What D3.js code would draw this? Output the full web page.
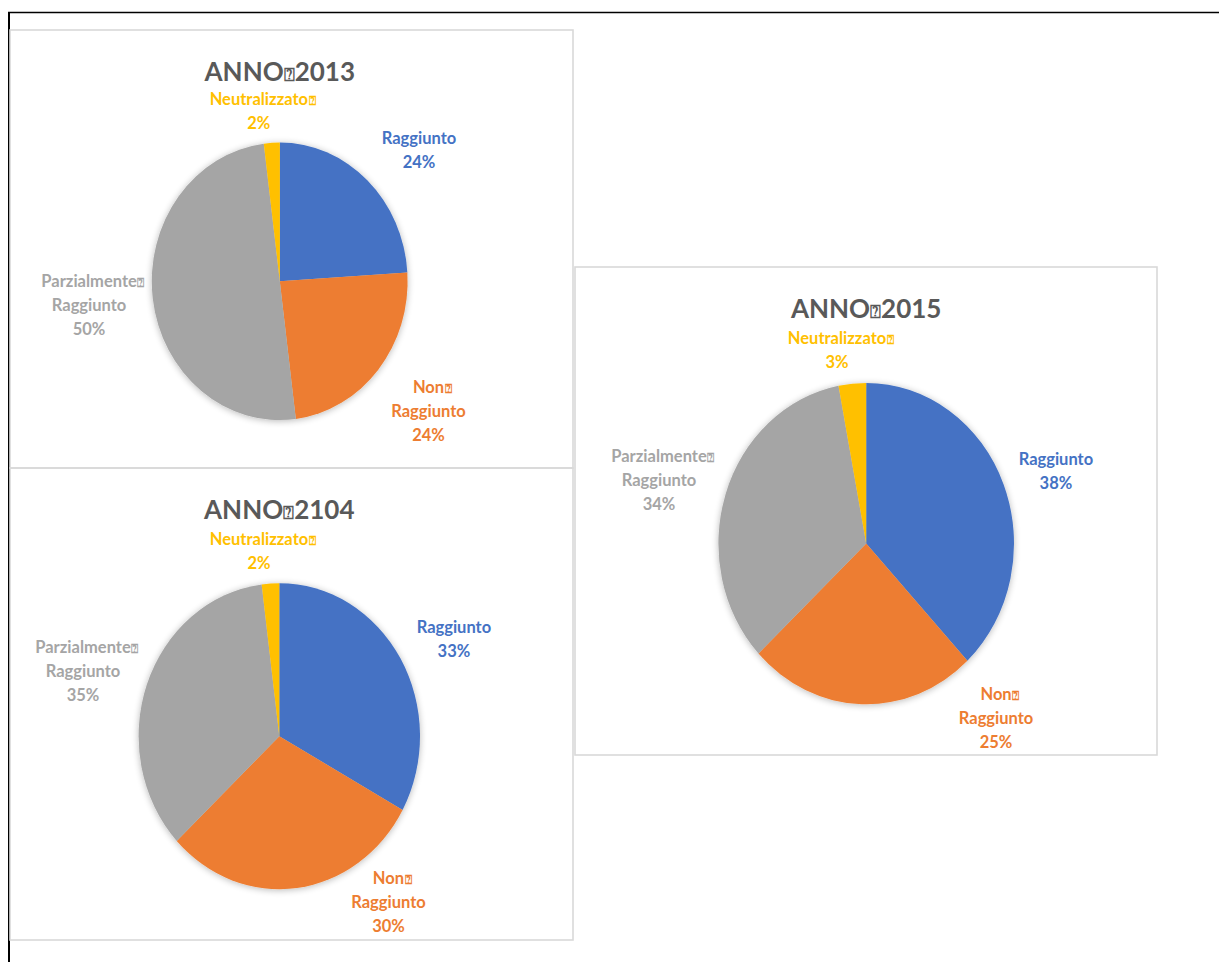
<!DOCTYPE html>
<html>
<head>
<meta charset="utf-8">
<script src="https://cdn.jsdelivr.net/npm/d3@7"></script>
<style>
  body { margin: 0; background: #fff; }
  svg { display: block; }
</style>
</head>
<body>
<svg id="chart" width="1219" height="962"></svg>
<script>
// ---- data -------------------------------------------------------------
const categories = ["Raggiunto", "Non Raggiunto", "Parzialmente Raggiunto", "Neutralizzato"];
const years = ["2013", "2104", "2015"];
const values2013 = [24, 24, 50, 2];
const values2104 = [33, 30, 35, 2];
const values2015 = [38, 25, 34, 3];
const colors = ["#4472C4", "#ED7D31", "#A5A5A5", "#FFC000"];

// category names as they wrap inside the data labels;
// a line ending in `true` carries the unrenderable space glyph after it
const labelLines = [
  [["Raggiunto", false]],
  [["Non", true], ["Raggiunto", false]],
  [["Parzialmente", true], ["Raggiunto", false]],
  [["Neutralizzato", true]]
];
const BOX = "\u2370";

// ---- layout -----------------------------------------------------------
const charts = [
  { year: years[0], values: values2013,
    panel: { x: 10, y: 30, w: 563, h: 438 },
    pie: { cx: 279.8, cy: 281.3, rx: 127.8, ry: 138.7 },
    labelTurn: [5.8, -0.8, 0.7, -4.0], labelDist: [1.443, 1.493, 1.502, 1.239] },
  { year: years[1], values: values2104,
    panel: { x: 10, y: 468, w: 563, h: 472 },
    pie: { cx: 279.3, cy: 736.2, rx: 140.7, ry: 153 },
    labelTurn: [3.6, -28.4, -2.8, -3.2], labelDist: [1.393, 1.333, 1.459, 1.219] },
  { year: years[2], values: values2015,
    panel: { x: 575, y: 267, w: 582, h: 488 },
    pie: { cx: 866.2, cy: 543.6, rx: 147.8, ry: 160.7 },
    labelTurn: [2.2, -40.8, -2.2, -3.9], labelDist: [1.361, 1.396, 1.457, 1.221] }
];

const FONT = "Lato, 'Open Sans', sans-serif";
const LINE_H = 24;

const svg = d3.select("#chart");

// soft outer shadow under each pie
const defs = svg.append("defs");
const f = defs.append("filter").attr("id", "pieShadow")
  .attr("x", "-20%").attr("y", "-20%").attr("width", "140%").attr("height", "140%");
f.append("feGaussianBlur").attr("in", "SourceAlpha").attr("stdDeviation", 3.5).attr("result", "blur");
f.append("feOffset").attr("in", "blur").attr("dx", 0).attr("dy", 1).attr("result", "off");
f.append("feComponentTransfer").attr("in", "off").attr("result", "shadow")
  .append("feFuncA").attr("type", "linear").attr("slope", 0.28);
const merge = f.append("feMerge");
merge.append("feMergeNode").attr("in", "shadow");
merge.append("feMergeNode").attr("in", "SourceGraphic");

// page frame lines
svg.append("line").attr("x1", 8).attr("x2", 1219).attr("y1", 12.5).attr("y2", 12.5)
  .attr("stroke", "#000").attr("stroke-width", 1.4);
svg.append("line").attr("x1", 9).attr("x2", 9).attr("y1", 12).attr("y2", 962)
  .attr("stroke", "#000").attr("stroke-width", 2);

const pieGen = d3.pie().sort(null).value(d => d);

charts.forEach(ch => {
  const p = ch.panel;
  // chart area border
  svg.append("rect")
    .attr("x", p.x).attr("y", p.y).attr("width", p.w).attr("height", p.h)
    .attr("fill", "none").attr("stroke", "#D9D9D9").attr("stroke-width", 1.6);

  const { cx, cy, rx, ry } = ch.pie;
  const sy = ry / rx;
  const arcs = pieGen(ch.values);
  const arcGen = d3.arc().innerRadius(0).outerRadius(rx);

  svg.append("g")
    .attr("transform", `translate(${cx},${cy}) scale(1,${sy})`)
    .attr("filter", "url(#pieShadow)")
    .selectAll("path")
    .data(arcs)
    .join("path")
    .attr("d", arcGen)
    .attr("fill", (d, i) => colors[i]);

  // title
  const title = svg.append("text")
    .attr("x", cx).attr("y", p.y + 51)
    .attr("text-anchor", "middle")
    .attr("font-family", FONT).attr("font-weight", 700).attr("font-size", 26)
    .attr("fill", "#595959");
  title.append("tspan").text("ANNO");
  title.append("tspan").attr("font-size", 18).text(BOX);
  title.append("tspan").text(ch.year);

  // data labels: category name + percentage, outside end
  arcs.forEach((d, i) => {
    const a = (d.startAngle + d.endAngle) / 2 + ch.labelTurn[i] * Math.PI / 180;
    const dist = rx * ch.labelDist[i];
    const lx = cx + Math.sin(a) * dist;
    const ly = cy - Math.cos(a) * dist * sy;
    const pct = Math.round(d.data / d3.sum(ch.values) * 100) + "%";
    const lines = labelLines[i].concat([[pct, false]]);
    const n = lines.length;
    lines.forEach((ln, j) => {
      const t = svg.append("text")
        .attr("y", ly + (j - (n - 1) / 2) * LINE_H + 6)
        .attr("font-family", FONT).attr("font-weight", 700).attr("font-size", 16.5)
        .attr("fill", colors[i]);
      const main = t.append("tspan").text(ln[0]);
      const w = main.node().getComputedTextLength();
      t.attr("x", lx - w / 2);
      if (ln[1]) t.append("tspan").attr("font-size", 12).attr("dx", 0.5).text(BOX);
    });
  });
});
</script>
</body>
</html>
